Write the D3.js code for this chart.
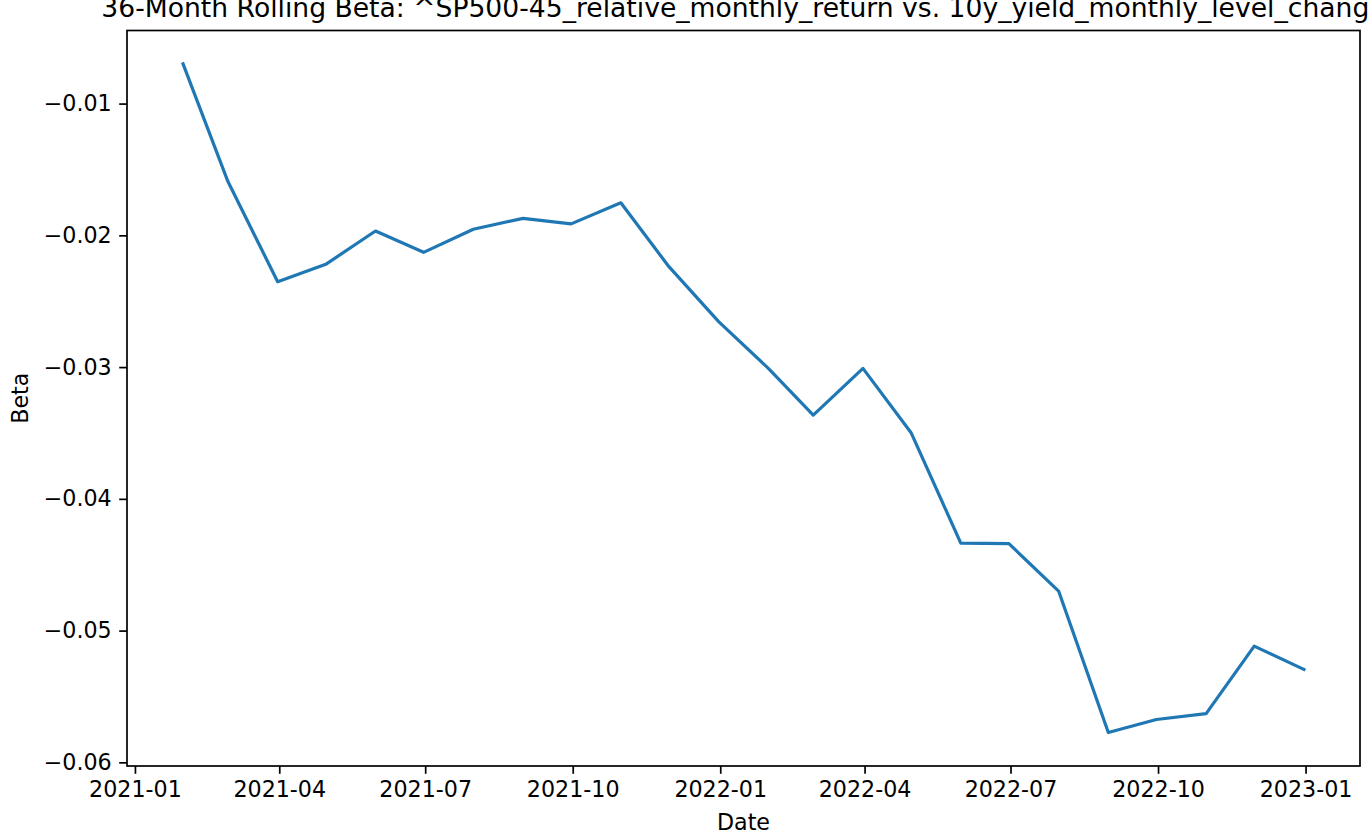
<!DOCTYPE html>
<html>
<head>
<meta charset="utf-8">
<script src="https://cdn.jsdelivr.net/npm/d3@7"></script>
<style>
  body { margin: 0; background: #fff; overflow: hidden; }
  text { font-family: "DejaVu Sans", sans-serif; fill: #000; }
</style>
</head>
<body>
<div id="chart"></div>
<script>
// month-end dates of the rolling window
var dates = ["2021-01-31", "2021-02-28", "2021-03-31", "2021-04-30", "2021-05-31", "2021-06-30",
             "2021-07-31", "2021-08-31", "2021-09-30", "2021-10-31", "2021-11-30", "2021-12-31",
             "2022-01-31", "2022-02-28", "2022-03-31", "2022-04-30", "2022-05-31", "2022-06-30",
             "2022-07-31", "2022-08-31", "2022-09-30", "2022-10-31", "2022-11-30", "2022-12-31"];

var beta = [-0.00699, -0.01592, -0.02352, -0.02220, -0.01967, -0.02129,
            -0.01954, -0.01871, -0.01913, -0.01753, -0.02238, -0.02655,
            -0.03010, -0.03364, -0.03010, -0.03498, -0.04336, -0.04340,
            -0.04700, -0.05774, -0.05675, -0.05630, -0.05118, -0.05295];

var yTicks = [-0.06, -0.05, -0.04, -0.03, -0.02, -0.01];

var titleText = "36-Month Rolling Beta: ^SP500-45_relative_monthly_return vs. 10y_yield_monthly_level_change";

var parse = d3.timeParse("%Y-%m-%d");
var data = dates.map((d, i) => ({ date: parse(d), value: beta[i] }));

var W = 1368, H = 840;
var box = { left: 127, right: 1360, top: 30.5, bottom: 766 };
var fs = 22.2; // tick / label font size

var svg = d3.select("#chart").append("svg")
    .attr("width", W)
    .attr("height", H);

// matplotlib style 5% margins
function pad(ext) {
    var p = (ext[1] - ext[0]) * 0.05;
    return [ext[0] - p, ext[1] + p];
}

var xExt = d3.extent(data, d => d.date.getTime());
var xScale = d3.scaleTime()
    .domain(pad(xExt).map(t => new Date(t)))
    .range([box.left, box.right]);

var yScale = d3.scaleLinear()
    .domain(pad(d3.extent(beta)))
    .range([box.bottom, box.top]);

var fmtDate = d3.timeFormat("%Y-%m");

var xAxis = svg.append("g")
    .attr("transform", "translate(0," + box.bottom + ")")
    .call(d3.axisBottom(xScale)
        .ticks(d3.timeMonth.every(3))
        .tickFormat(fmtDate)
        .tickSize(7.8)
        .tickPadding(7.5));

var yAxis = svg.append("g")
    .attr("transform", "translate(" + box.left + ",0)")
    .call(d3.axisLeft(yScale)
        .tickValues(yTicks)
        .tickFormat(d3.format(".2f"))
        .tickSize(7.8)
        .tickPadding(7.5));

[xAxis, yAxis].forEach(function (g) {
    g.select(".domain").remove();
    g.selectAll(".tick line").attr("stroke", "#000").attr("stroke-width", 1.7);
    g.selectAll(".tick text")
        .style("font-family", "DejaVu Sans, sans-serif")
        .style("font-size", fs + "px")
        .attr("fill", "#000");
});

// frame
svg.append("rect")
    .attr("x", box.left)
    .attr("y", box.top)
    .attr("width", box.right - box.left)
    .attr("height", box.bottom - box.top)
    .attr("fill", "none")
    .attr("stroke", "#000")
    .attr("stroke-width", 1.7);

var line = d3.line()
    .x(d => xScale(d.date))
    .y(d => yScale(d.value));

svg.append("path")
    .datum(data)
    .attr("d", line)
    .attr("fill", "none")
    .attr("stroke", "#1f77b4")
    .attr("stroke-width", 3.2)
    .attr("stroke-linejoin", "round")
    .attr("stroke-linecap", "square");

var midX = (box.left + box.right) / 2;

svg.append("text")
    .attr("x", midX)
    .attr("y", 17)
    .attr("text-anchor", "middle")
    .style("font-size", "26.6px")
    .text(titleText);

svg.append("text")
    .attr("x", midX)
    .attr("y", 830)
    .attr("text-anchor", "middle")
    .style("font-size", fs + "px")
    .text("Date");

svg.append("text")
    .attr("transform", "translate(28," + ((box.top + box.bottom) / 2) + ") rotate(-90)")
    .attr("text-anchor", "middle")
    .style("font-size", fs + "px")
    .text("Beta");
</script>
</body>
</html>
